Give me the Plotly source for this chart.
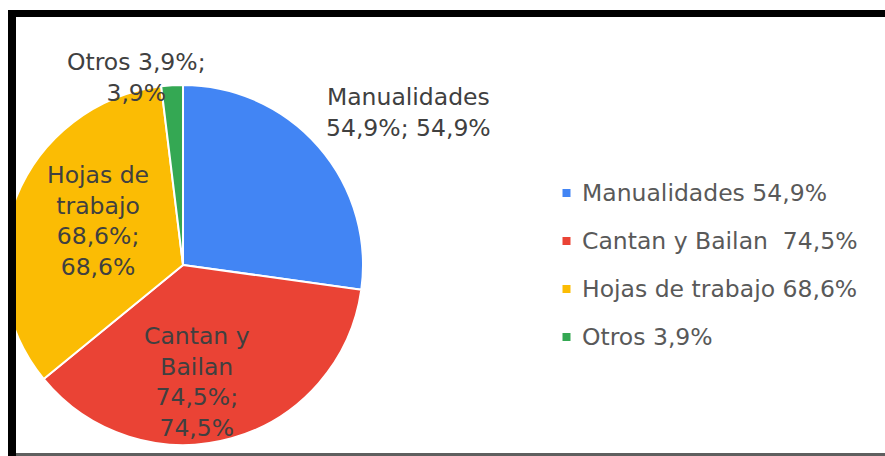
import plotly.graph_objects as go

# ---- data ----
categories = ["Manualidades", "Cantan y Bailan", "Hojas de trabajo", "Otros"]
values = [54.9, 74.5, 68.6, 3.9]
colors = ["#4285F4", "#EA4335", "#FBBC04", "#34A853"]
legend_labels = ["Manualidades 54,9%", "Cantan y Bailan\u00a0 74,5%",
                 "Hojas de trabajo 68,6%", "Otros 3,9%"]
slice_labels = ["Manualidades<br>54,9%; 54,9%",
                "Cantan y<br>Bailan<br>74,5%;<br>74,5%",
                "Hojas de<br>trabajo<br>68,6%;<br>68,6%",
                "Otros 3,9%;<br>3,9%"]

W, H = 885, 456
FONT = "DejaVu Sans"
FS = 23.5


def px(x):
    return x / W


def py(y):
    return 1 - y / H


cx, cy, r = 183, 265, 180

fig = go.Figure()
fig.add_trace(go.Pie(
    labels=categories,
    values=values,
    sort=False,
    direction="clockwise",
    rotation=0,
    marker=dict(colors=colors, line=dict(color="white", width=2)),
    textinfo="none",
    hoverinfo="label+value",
    showlegend=False,
    domain=dict(x=[px(cx - r), px(cx + r)], y=[py(cy + r), py(cy - r)]),
))

annotations = []
# slice labels (layout positions)
label_pos = [(408, 112.5), (197, 382), (98, 221), (136, 78)]
for txt, (lx, ly) in zip(slice_labels, label_pos):
    annotations.append(dict(
        x=px(lx), y=py(ly), xref="paper", yref="paper",
        text=txt, showarrow=False, xanchor="center", yanchor="middle",
        align="center", font=dict(family=FONT, size=FS, color="#404040"),
    ))

shapes = []
# legend
leg_x_marker, leg_x_text, leg_y0, leg_dy = 566.5, 580, 193, 48
for i, (lab, col) in enumerate(zip(legend_labels, colors)):
    yy = leg_y0 + i * leg_dy
    annotations.append(dict(
        x=px(leg_x_text), y=py(yy), xref="paper", yref="paper",
        text=lab, showarrow=False, xanchor="left", yanchor="middle",
        font=dict(family=FONT, size=FS, color="#595959"),
    ))
    shapes.append(dict(
        type="rect", xref="paper", yref="paper", layer="above",
        x0=px(leg_x_marker - 4), x1=px(leg_x_marker + 4),
        y0=py(yy + 4), y1=py(yy - 4),
        fillcolor=col, line=dict(width=0),
    ))

# frame
frame = [
    (0, 0, 8, H, "white"),
    (0, 0, W, 10, "white"),
    (8, 10, W, 17, "black"),
    (8, 10, 16, H, "black"),
    (16, 453, W, H, "#5f5f5f"),
]
for x0, y0, x1, y1, c in frame:
    shapes.append(dict(
        type="rect", xref="paper", yref="paper", layer="above",
        x0=px(x0), x1=px(x1), y0=py(y1), y1=py(y0),
        fillcolor=c, line=dict(width=0),
    ))

fig.update_layout(
    width=W, height=H,
    margin=dict(l=0, r=0, t=0, b=0),
    paper_bgcolor="white",
    plot_bgcolor="white",
    annotations=annotations,
    shapes=shapes,
    showlegend=False,
)

fig.write_html(
    "out.html",
    config={"displayModeBar": False},
    post_script="document.body.style.margin='0';document.body.style.overflow='hidden';",
)
